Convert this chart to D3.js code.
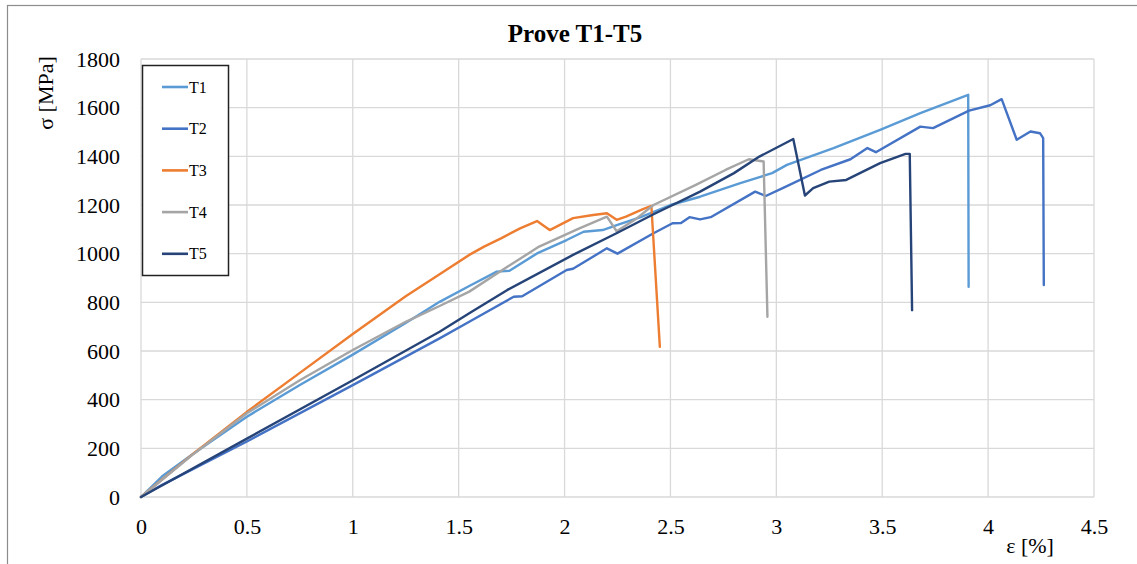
<!DOCTYPE html>
<html>
<head>
<meta charset="utf-8">
<script src="https://cdn.jsdelivr.net/npm/d3@7"></script>
<style>
  body { margin: 0; background: #fff; }
  svg text { font-family: "Liberation Serif", "Times New Roman", serif; fill: #000; }
</style>
</head>
<body>
<svg id="chart"></svg>
<script>
const width = 1137;
const height = 564;
const margin = {top: 59, right: 43, bottom: 67, left: 141};

// strain [%], stress [MPa]
const T1 = [[0,0],[0.1,85],[0.25,180],[0.5,330],[0.75,460],[1.0,585],[1.25,715],[1.41,802],[1.55,867],[1.68,926],[1.74,930],[1.87,1001],[2.01,1056],[2.09,1090],[2.18,1097],[2.25,1118],[2.36,1150],[2.5,1200],[2.64,1234],[2.83,1290],[2.98,1331],[3.05,1365],[3.27,1434],[3.49,1509],[3.68,1578],[3.906,1653],[3.908,864]];
const T2 = [[0,0],[0.1,50],[0.5,228],[1.0,460],[1.41,652],[1.55,720],[1.76,823],[1.8,825],[2.01,933],[2.04,938],[2.2,1022],[2.25,1000],[2.42,1084],[2.51,1125],[2.55,1126],[2.59,1150],[2.64,1141],[2.69,1150],[2.9,1255],[2.95,1237],[3.03,1269],[3.21,1344],[3.35,1388],[3.43,1434],[3.47,1417],[3.68,1522],[3.74,1516],[3.91,1588],[4.01,1610],[4.064,1635],[4.135,1468],[4.2,1502],[4.245,1495],[4.26,1475],[4.263,871]];
const T3 = [[0,0],[0.25,180],[0.5,350],[0.75,510],[1.0,670],[1.25,825],[1.41,915],[1.55,995],[1.62,1029],[1.7,1063],[1.79,1104],[1.87,1134],[1.93,1097],[2.04,1146],[2.135,1159],[2.2,1166],[2.246,1139],[2.29,1152],[2.37,1183],[2.41,1196],[2.45,617]];
const T4 = [[0,0],[0.25,178],[0.5,344],[0.75,480],[1.0,604],[1.25,720],[1.41,785],[1.55,844],[1.73,946],[1.88,1029],[2.07,1104],[2.2,1152],[2.246,1092],[2.33,1138],[2.42,1200],[2.62,1283],[2.76,1344],[2.87,1388],[2.94,1379],[2.958,741]];
const T5 = [[0,0],[0.5,240],[1.0,480],[1.41,679],[1.55,755],[1.73,851],[2.04,995],[2.25,1086],[2.42,1162],[2.64,1255],[2.8,1331],[2.92,1399],[3.08,1471],[3.135,1239],[3.174,1269],[3.25,1296],[3.33,1303],[3.49,1372],[3.61,1410],[3.63,1410],[3.641,768]];

const seriesNames = ['T1', 'T2', 'T3', 'T4', 'T5'];
const seriesData = [T1, T2, T3, T4, T5];
const seriesColors = ['#5B9BD5', '#4472C4', '#ED7D31', '#A5A5A5', '#264478'];
const xTicks = [0, 0.5, 1, 1.5, 2, 2.5, 3, 3.5, 4, 4.5];
const yTicks = [0, 200, 400, 600, 800, 1000, 1200, 1400, 1600, 1800];

const svg = d3.select('#chart')
    .attr('width', width)
    .attr('height', height);

// outer frame
svg.append('rect')
    .attr('x', 7.5).attr('y', 5.5)
    .attr('width', width).attr('height', height)
    .attr('fill', 'none')
    .attr('stroke', '#8c8c8c')
    .attr('stroke-width', 1.2);

const x = d3.scaleLinear().domain([0, 4.5]).range([margin.left, width - margin.right]);
const y = d3.scaleLinear().domain([0, 1800]).range([height - margin.bottom, margin.top]);

// grid
svg.append('g')
    .selectAll('line')
    .data(xTicks).enter()
    .append('line')
    .attr('x1', d => x(d)).attr('x2', d => x(d))
    .attr('y1', y(0)).attr('y2', y(1800))
    .attr('stroke', '#d9d9d9').attr('stroke-width', 1.3);

svg.append('g')
    .selectAll('line')
    .data(yTicks).enter()
    .append('line')
    .attr('x1', x(0)).attr('x2', x(4.5))
    .attr('y1', d => y(d)).attr('y2', d => y(d))
    .attr('stroke', '#d9d9d9').attr('stroke-width', 1.3);

// axes (labels only)
const xAxis = svg.append('g')
    .attr('transform', `translate(0, ${y(0)})`)
    .call(d3.axisBottom(x).tickValues(xTicks).tickFormat(d3.format('')).tickSize(0).tickPadding(21));
const yAxis = svg.append('g')
    .attr('transform', `translate(${x(0)}, 0)`)
    .call(d3.axisLeft(y).tickValues(yTicks).tickFormat(d3.format('d')).tickSize(0).tickPadding(21));
[xAxis, yAxis].forEach(a => {
    a.attr('font-family', '"Liberation Serif", serif').attr('font-size', 22);
    a.select('.domain').remove();
    a.selectAll('text').attr('fill', '#000');
});

// curves
const line = d3.line().x(d => x(d[0])).y(d => y(d[1]));
svg.append('g')
    .selectAll('path')
    .data(seriesData).enter()
    .append('path')
    .attr('d', line)
    .attr('fill', 'none')
    .attr('stroke', (d, i) => seriesColors[i])
    .attr('stroke-width', 2.4)
    .attr('stroke-linejoin', 'round')
    .attr('stroke-linecap', 'round');

// title
svg.append('text')
    .attr('x', 575).attr('y', 42)
    .attr('text-anchor', 'middle')
    .style('font-size', '25px')
    .style('font-weight', 'bold')
    .text('Prove T1-T5');

// axis titles
svg.append('text')
    .attr('transform', 'translate(53, 93) rotate(-90)')
    .attr('text-anchor', 'middle')
    .style('font-size', '22px')
    .text('σ [MPa]');

svg.append('text')
    .attr('x', 1030).attr('y', 553)
    .attr('text-anchor', 'middle')
    .style('font-size', '22px')
    .text('ε [%]');

// legend
const legend = svg.append('g');
legend.append('rect')
    .attr('x', 142.5).attr('y', 65.5)
    .attr('width', 86).attr('height', 210)
    .attr('fill', '#fff')
    .attr('stroke', '#222').attr('stroke-width', 1.5);

const items = legend.selectAll('g.item')
    .data(seriesNames).enter()
    .append('g')
    .attr('class', 'item')
    .attr('transform', (d, i) => `translate(0, ${87 + i * 41.7})`);
items.append('line')
    .attr('x1', 162).attr('x2', 188)
    .attr('stroke', (d, i) => seriesColors[i])
    .attr('stroke-width', 2.6);
items.append('text')
    .attr('x', 189).attr('y', 5.5)
    .style('font-size', '16px')
    .text(d => d);
</script>
</body>
</html>
